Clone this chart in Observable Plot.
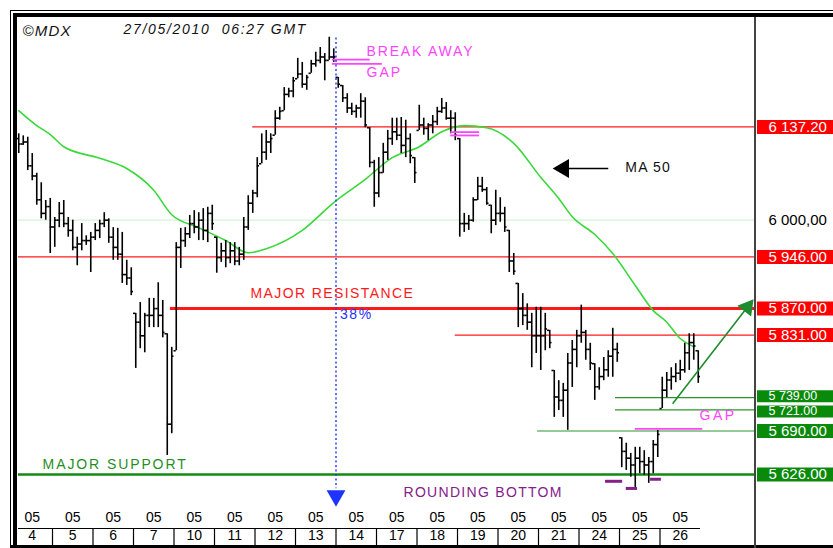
<!DOCTYPE html>
<html><head><meta charset="utf-8">
<script src="https://cdn.jsdelivr.net/npm/d3@7"></script>
<script src="https://cdn.jsdelivr.net/npm/@observablehq/plot@0.6"></script>
<style>
body{margin:0;background:#fff;}
#wrap{position:relative;width:833px;height:548px;overflow:hidden;background:#fff;}
#wrap svg{position:absolute;left:0;top:0;overflow:hidden;}
.bd{position:absolute;background:#000;}
</style></head><body><div id="wrap"></div>
<script>
// ---- data ----
const days = ["4","5","6","7","10","11","12","13","14","17","18","19","20","21","24","25","26"];
const monthLabel = "05";
const barsPerDay = 9;
const firstSlot = 1;
const firstOpen = 6120;
const highs = [6127,6124,6122,6098,6069,6055,6029,6032,
6004,6026,6029,6004,6000,5975,5995,5977,5982,
5995,6000,6011,6002,5989,5988,5982,5941,5930,
5863,5879,5863,5885,5885,5908,5882,5833,5813,
5967,5988,5989,6007,6014,6011,6017,6019,6022,
5975,5966,5970,5967,5967,5960,6004,6036,6044,
6092,6127,6132,6127,6161,6166,6195,6194,6210,
6238,6232,6213,6235,6247,6254,6245,6269,6252,
6210,6198,6186,6172,6169,6186,6180,6136,6088,
6092,6113,6132,6150,6150,6151,6147,6127,6092,
6169,6150,6142,6154,6166,6179,6173,6161,6158,
6120,6010,6007,6033,6063,6063,6048,6022,6044,
6033,6019,5985,5951,5907,5892,5877,5863,5872,
5872,5863,5838,5779,5764,5760,5804,5823,5838,
5875,5838,5819,5789,5783,5798,5808,5841,5819,
5680,5672,5657,5666,5666,5661,5651,5676,5691,
5769,5776,5783,5789,5794,5819,5833,5833,5808];
const lows = [6098,6110,6073,6058,6022,6002,6000,5951,
5960,5989,5989,5975,5955,5933,5955,5963,5923,
5970,5973,5989,5966,5941,5941,5907,5904,5889,
5782,5811,5805,5842,5842,5842,5827,5654,5686,
5808,5929,5960,5973,5980,5970,5970,5967,5985,
5922,5938,5930,5936,5933,5933,5941,5985,6010,
6033,6083,6088,6098,6125,6147,6161,6180,6180,
6208,6194,6191,6216,6225,6230,6205,6235,6232,
6194,6173,6157,6154,6150,6150,6136,6077,6019,
6033,6069,6088,6110,6117,6098,6092,6083,6054,
6132,6125,6117,6127,6139,6157,6147,6127,6117,
5975,5982,5985,5997,6029,6041,6022,5980,5992,
5997,5982,5923,5919,5842,5845,5838,5783,5804,
5779,5808,5811,5710,5720,5710,5691,5754,5783,
5819,5794,5779,5735,5750,5764,5769,5769,5791,
5636,5632,5622,5607,5627,5625,5613,5627,5651,
5723,5739,5750,5761,5764,5775,5779,5794,5760];
const closes = [6112,6115,6080,6065,6030,6010,6020,5990,
6000,6010,5995,5985,5960,5965,5970,5970,5975,
5985,5995,6000,5975,5960,5950,5920,5915,5895,
5850,5830,5860,5860,5870,5860,5835,5700,5800,
5960,5970,5980,5995,5990,6000,5985,6010,5995,
5945,5955,5945,5955,5940,5950,5990,6025,6040,
6080,6100,6115,6120,6150,6160,6185,6190,6205,
6215,6200,6210,6230,6235,6240,6235,6240,6240,
6200,6180,6165,6160,6165,6175,6140,6085,6040,
6070,6100,6120,6130,6125,6110,6120,6095,6070,
6140,6135,6140,6145,6160,6165,6150,6150,6125,
5995,5995,6000,6030,6050,6045,6025,6000,6010,
6010,5990,5940,5925,5870,5860,5850,5830,5830,
5830,5840,5820,5740,5735,5750,5790,5810,5830,
5835,5810,5790,5755,5770,5780,5800,5810,5805,
5660,5650,5640,5650,5645,5640,5645,5670,5685,
5750,5765,5770,5775,5780,5805,5820,5815,5770];
// 50-period moving average as drawn
const maSlots  = [1,5,8,11,19,25,31,35,41,47,52,56,64,71,78,84,90,95,100,105,111,117,121,124,129,133,138,142,145,148,151];
const maValues = [6161,6139,6126,6108,6091,6076,6044,6008,5989,5970,5952,5958,5985,6026,6060,6092,6108,6130,6139,6136,6113,6063,6032,6005,5979,5951,5904,5867,5850,5826,5814];
// price levels
const levelValues = [6137.2, 5946, 5870, 5831, 5739, 5721, 5690, 5626];
const levelKinds  = ["resistance","resistance","major-resistance","resistance","support","support","support","major-support"];
const levelFrom   = [53, null, 34.7, 98, 133.6, 133.6, 116.3, null];
// gaps & rounding-bottom markers
const gapValues = [6236, 6230, 6129.5, 6124.6, 5693];
const gapFrom   = [70.7, 70.7, 97, 97, 138];
const gapTo     = [79.1, 81.8, 103.4, 103.4, 153];
const bottomValues = [5616, 5605.5, 5619];
const bottomFrom   = [131.4, 136, 141.4];
const bottomTo     = [135.2, 138.5, 143.8];
const fibSlot = 71.5, fibTop = 6268, fibBottom = 5605, fibLabel = "38%";
const trendFrom = {x: 146.3, y: 5730}, trendTo = {x: 162.9, y: 5872};
const maArrow = {x1: 132, x2: 121.4, y: 6076};

// ---- layout / style ----
const W = 833, H = 548;
const xDomain = [0.944, 164.72];
const yDomain = [5576, 6296.6];
const FONT = "'Liberation Sans', Arial, sans-serif";
const RED = "#ff1a1a", GREEN = "#2a962a", DKGREEN = "#138a13", MAGENTA = "#ff44ff", BLUE = "#1f33ff", PURPLE = "#85208a", MA = "#3ad83a";

const bars = highs.map((h, k) => {
  const prev = k === 0 ? firstOpen : closes[k - 1];
  return {i: firstSlot + k, high: h, low: lows[k], close: closes[k], open: Math.max(lows[k], Math.min(h, prev))};
});
const ma = maSlots.map((s, k) => ({x: s, y: maValues[k]}));
const styleOf = {
  "resistance": {stroke: RED, width: 1.2, box: "#ff0000"},
  "major-resistance": {stroke: RED, width: 3, box: "#ff0000"},
  "support": {stroke: GREEN, width: 1.2, box: "#0a8a0a"},
  "major-support": {stroke: DKGREEN, width: 2.6, box: "#0a8a0a"}
};
const fmtDot = d3.formatLocale({decimal: ".", thousands: " ", grouping: [3], currency: ["", ""]}).format(",.2f");
const fmtComma = d3.formatLocale({decimal: ",", thousands: " ", grouping: [3], currency: ["", ""]}).format(",.2f");
const levels = levelValues.map((v, k) => ({value: v, kind: levelKinds[k], from: levelFrom[k] ?? xDomain[0], label: fmtDot(v)}));
// the two close support labels are nudged apart so that they stay legible
const labelShift = {5739: -1.5, 5721: 1.5};
const gaps = gapValues.map((v, k) => ({y: v, x1: gapFrom[k], x2: gapTo[k]}));
const bottoms = bottomValues.map((v, k) => ({y: v, x1: bottomFrom[k], x2: bottomTo[k]}));
const dayCells = days.map((d, k) => ({slot: k * barsPerDay + (barsPerDay - 1) / 2, day: d}));
const separators = days.slice(1).map((d, k) => (k + 1) * barsPerDay - 0.5);
const tableEnd = days.length * barsPerDay - 0.5;

const notes = [
  {text: "BREAK AWAY", x: 78.3, y: 6248, color: MAGENTA},
  {text: "GAP", x: 78.3, y: 6217, color: MAGENTA},
  {text: "MA 50", x: 135.8, y: 6077, color: "#111"},
  {text: "MAJOR RESISTANCE", x: 52.5, y: 5892, color: RED},
  {text: fibLabel, x: 72.4, y: 5861, color: BLUE},
  {text: "MAJOR SUPPORT", x: 6.3, y: 5641, color: "#1f8f1f"},
  {text: "ROUNDING BOTTOM", x: 86.5, y: 5600, color: PURPLE},
  {text: "GAP ", x: 152.3, y: 5713, color: MAGENTA}
];
const closeLabels = levels.filter(d => labelShift[d.value] != null);
const otherLabels = levels.filter(d => labelShift[d.value] == null);

const plot = Plot.plot({
  width: W, height: H,
  marginLeft: 18, marginRight: 78, marginTop: 18, marginBottom: 40,
  x: {domain: xDomain, axis: null},
  y: {domain: yDomain, axis: null},
  style: {fontFamily: FONT, fontSize: "14px", background: "transparent", color: "#000"},
  marks: [
    Plot.ruleY([6000], {stroke: "#d4f4d4", strokeWidth: 1.2}),
    Plot.ruleY(levels, {y: "value", x1: "from", x2: xDomain[1], stroke: d => styleOf[d.kind].stroke, strokeWidth: d => styleOf[d.kind].width}),
    Plot.line(ma, {x: "x", y: "y", stroke: MA, strokeWidth: 1.6, curve: "monotone-x"}),
    Plot.ruleX(bars, {x: "i", y1: "low", y2: "high", stroke: "#000", strokeWidth: 1.6}),
    Plot.ruleY(bars, {y: "open", x1: d => d.i - 0.5, x2: "i", stroke: "#000", strokeWidth: 1.6}),
    Plot.ruleY(bars, {y: "close", x1: "i", x2: d => d.i + 0.5, stroke: "#000", strokeWidth: 1.6}),
    Plot.ruleY(gaps, {y: "y", x1: "x1", x2: "x2", stroke: MAGENTA, strokeWidth: 1.8}),
    Plot.ruleY(bottoms, {y: "y", x1: "x1", x2: "x2", stroke: PURPLE, strokeWidth: 3}),
    Plot.ruleX([fibSlot], {y1: fibTop, y2: fibBottom, stroke: BLUE, strokeWidth: 1.4, strokeDasharray: "2,2.5"}),
    Plot.dot([{x: fibSlot, y: fibBottom}], {x: "x", y: "y", symbol: "triangle", rotate: 180, r: 7, dy: 7, fill: BLUE, stroke: "none"}),
    Plot.link([{...trendFrom, x2: trendTo.x, y2: trendTo.y}], {x1: "x", y1: "y", x2: "x2", y2: "y2", stroke: "#1e8c2e", strokeWidth: 1.6}),
    Plot.dot([trendTo], {x: "x", y: "y", symbol: "triangle", rotate: 38, r: 6.5, fill: "#1e8c2e", stroke: "none"}),
    Plot.link([maArrow], {x1: "x1", x2: "x2", y1: "y", y2: "y", stroke: "#000", strokeWidth: 1.6}),
    Plot.dot([maArrow], {x: "x2", y: "y", symbol: "triangle", rotate: -90, r: 7, dx: 3, fill: "#000", stroke: "none"}),
    Plot.text(notes, {x: "x", y: "y", text: "text", fill: "color", textAnchor: "start", fontSize: 14}),
    Plot.text(["©MDX"], {frameAnchor: "top-left", dx: 4, dy: 7, textAnchor: "start", fontSize: 15, fontStyle: "italic", fill: "#111"}),
    Plot.text(["27/05/2010  06:27 GMT"], {frameAnchor: "top-left", dx: 105, dy: 6, textAnchor: "start", fontSize: 14, fontStyle: "italic", fill: "#111"}),
    // right price boxes
    Plot.ruleY(otherLabels, {y: "value", insetLeft: 739, insetRight: -82, stroke: d => styleOf[d.kind].box, strokeWidth: 14}),
    Plot.ruleY(closeLabels.slice(0, 1), {y: "value", insetLeft: 739, insetRight: -82, dy: -1.5, stroke: d => styleOf[d.kind].box, strokeWidth: 12}),
    Plot.ruleY(closeLabels.slice(1), {y: "value", insetLeft: 739, insetRight: -82, dy: 1.5, stroke: d => styleOf[d.kind].box, strokeWidth: 12}),
    Plot.text(otherLabels, {y: "value", text: "label", frameAnchor: "right", dx: 13, textAnchor: "start", fill: "#fff", fontSize: 15}),
    Plot.text(closeLabels.slice(0, 1), {y: "value", text: "label", frameAnchor: "right", dx: 13, dy: -1.5, textAnchor: "start", fill: "#fff", fontSize: 12.5}),
    Plot.text(closeLabels.slice(1), {y: "value", text: "label", frameAnchor: "right", dx: 13, dy: 1.5, textAnchor: "start", fill: "#fff", fontSize: 12.5}),
    Plot.axisY([6000], {anchor: "right", tickSize: 0, tickPadding: 13, tickFormat: fmtComma, fontSize: 15, fill: "#000"}),
    // date table
    Plot.ruleY([yDomain[0]], {x1: xDomain[0], x2: tableEnd, dy: 20, stroke: "#000", strokeWidth: 1.2}),
    Plot.ruleX(separators, {insetTop: 510, insetBottom: -38, stroke: "#000", strokeWidth: 1.2}),
    Plot.text(dayCells, {x: "slot", text: () => monthLabel, frameAnchor: "bottom", dy: 13, fontSize: 14, fill: "#000"}),
    Plot.text(dayCells, {x: "slot", text: "day", frameAnchor: "bottom", dy: 31, fontSize: 14, fill: "#000"})
  ]
});

const wrap = document.getElementById("wrap");
wrap.appendChild(plot);
const spacing = {"©MDX": 1.2, "BREAK AWAY": 1.8, "GAP": 2, "GAP ": 2.5, "MA 50": 1.2, "MAJOR RESISTANCE": 1.4, "MAJOR SUPPORT": 1.9, "ROUNDING BOTTOM": 1.3, "38%": 1.5, "27/05/2010  06:27 GMT": 1.7};
d3.select(plot).selectAll("text").each(function() {
  const s = spacing[this.textContent];
  if (s != null) this.style.letterSpacing = s + "px";
});
// chart frame
[[10,10,823,1],[13,13,820,4],[10,10,1,538],[13,13,4,535],[10,545,823,3]].forEach(([l,t,w,h]) => {
  const d = document.createElement("div"); d.className = "bd";
  Object.assign(d.style, {left: l + "px", top: t + "px", width: w + "px", height: h + "px"});
  wrap.appendChild(d);
});
const divider = document.createElement("div"); divider.className = "bd";
Object.assign(divider.style, {left: "754px", top: "17px", width: "2px", height: "531px", background: "#444"});
wrap.appendChild(divider);
</script></body></html>
